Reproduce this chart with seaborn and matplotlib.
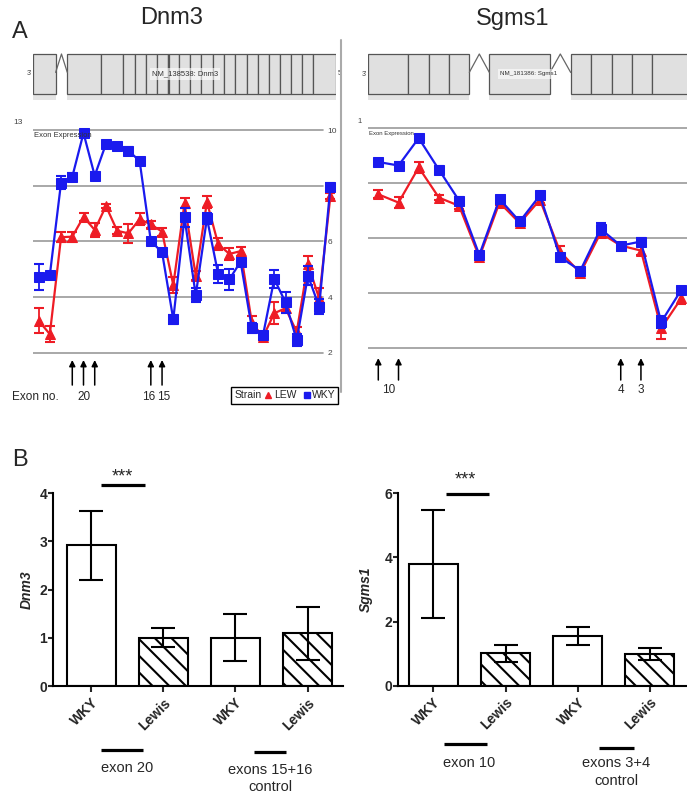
import numpy as np
import pandas as pd
import matplotlib.pyplot as plt
import seaborn as sns
from matplotlib.lines import Line2D
from matplotlib.patches import Rectangle

# ---- panel A: exon array expression, probe sets ordered 3' -> 5' ----
dnm3_wky = [4.71, 4.79, 8.11, 8.32, 9.89, 8.36, 9.50, 9.44, 9.26, 8.89, 6.01, 5.61, 3.20, 6.86,
            4.07, 6.83, 4.83, 4.64, 5.27, 2.88, 2.64, 4.65, 3.81, 2.46, 4.77, 3.65, 7.96]
dnm3_wky_err = [0.47, 0.12, 0.23, 0.12, 0.12, 0.12, 0.10, 0.10, 0.12, 0.12, 0.10, 0.12, 0.15, 0.33,
                0.24, 0.20, 0.32, 0.38, 0.12, 0.18, 0.10, 0.34, 0.39, 0.21, 0.34, 0.27, 0.12]
dnm3_lew = [3.15, 2.67, 6.15, 6.17, 6.88, 6.41, 7.27, 6.38, 6.29, 6.80, 6.61, 6.35, 4.43, 7.37,
            4.77, 7.42, 5.90, 5.55, 5.65, 3.08, 2.57, 3.42, 3.60, 2.75, 5.19, 3.95, 7.63]
dnm3_lew_err = [0.44, 0.28, 0.18, 0.18, 0.13, 0.24, 0.08, 0.12, 0.33, 0.22, 0.12, 0.14, 0.29, 0.18,
                0.16, 0.21, 0.21, 0.23, 0.16, 0.23, 0.10, 0.40, 0.12, 0.18, 0.28, 0.36, 0.10]

sgms1_wky = [8.77, 8.64, 9.64, 8.49, 7.36, 5.38, 7.42, 6.60, 7.55, 5.30, 4.81, 6.33, 5.72, 5.87, 2.93, 4.11]
sgms1_wky_err = [0.12, 0.12, 0.12, 0.15, 0.15, 0.15, 0.12, 0.12, 0.12, 0.12, 0.12, 0.21, 0.10, 0.12, 0.21, 0.10]
sgms1_lew = [7.59, 7.29, 8.57, 7.47, 7.17, 5.30, 7.29, 6.54, 7.39, 5.50, 4.72, 6.18, 5.72, 5.54, 2.71, 3.80]
sgms1_lew_err = [0.15, 0.20, 0.20, 0.10, 0.12, 0.12, 0.10, 0.10, 0.10, 0.21, 0.12, 0.12, 0.10, 0.15, 0.40, 0.20]

grid_ticks = [2, 4, 6, 8, 10]

# arrows marking the exons tested by qPCR (probe-set index) and their labels
dnm3_arrows = [3, 4, 5, 10, 11]
dnm3_arrow_labels = {4: '20', 9.85: '16', 11.1: '15'}
sgms1_arrows = [0, 1, 12, 13]
sgms1_arrow_labels = {0.5: '10', 12: '4', 13: '3'}

# gene models (exon start/end along the transcript drawing)
dnm3_exon_start = [100, 202, 303, 370, 404, 437, 470, 503, 507, 536, 571, 604, 638, 672, 706, 740, 773, 806, 840, 874, 907, 940]
dnm3_exon_end = [167, 303, 370, 404, 437, 470, 503, 507, 536, 571, 604, 638, 672, 706, 740, 773, 806, 840, 874, 907, 940, 1008]
sgms1_exon_start = [85, 205, 267, 327, 448, 692, 752, 815, 875, 935]
sgms1_exon_end = [205, 267, 327, 388, 630, 752, 815, 875, 935, 1070]

# ---- panel B: qPCR ----
qpcr_labels = ['WKY', 'Lewis', 'WKY', 'Lewis']
dnm3_qpcr = [2.92, 1.00, 1.00, 1.10]
dnm3_qpcr_err = [0.71, 0.20, 0.49, 0.55]
sgms1_qpcr = [3.79, 1.01, 1.55, 1.00]
sgms1_qpcr_err = [1.68, 0.27, 0.28, 0.19]

RED = '#ee1c25'
BLUE = '#1a1aee'

sns.set_style('white')
plt.rcParams['font.family'] = ['Liberation Sans', 'DejaVu Sans']
plt.rcParams['hatch.linewidth'] = 1.5

W, H = 687, 794
fig = plt.figure(figsize=(W / 100, H / 100), dpi=100)


def place(x0, y0, x1, y1):
    return fig.add_axes([x0 / W, 1 - y1 / H, (x1 - x0) / W, (y1 - y0) / H])


def gene_model(ax, starts, ends, xlim, label, label_x, fs):
    starts, ends = np.array(starts), np.array(ends)
    ax.barh(-0.08, ends - starts, left=starts, height=0.14, color='#e4e4e4', linewidth=0)
    ax.barh(0.5, ends - starts, left=starts, height=1.0, color='#e0e0e0',
            edgecolor='#555555', linewidth=0.9)
    for a, b in zip(ends[:-1], starts[1:]):
        if b > a:
            ax.plot([a, (a + b) / 2, b], [0.54, 1.0, 0.54], color='#666666', lw=0.9)
    ax.text(label_x, 0.5, label, fontsize=fs, ha='center', va='center', color='#333333',
            bbox=dict(facecolor='white', edgecolor='none', alpha=0.6, pad=1.5))
    ax.set_xlim(*xlim)
    ax.set_ylim(-0.15, 1.15)
    ax.axis('off')


def exon_profile(ax, wky, wky_err, lew, lew_err, xlim, ylim, grid_end):
    idx = np.arange(len(wky))
    for ticks in grid_ticks:
        ax.axhline(ticks, xmin=0, xmax=grid_end, color='#9a9a9a', lw=1.2, zorder=0)
    for vals, errs, col, mk in [(lew, lew_err, RED, '^'), (wky, wky_err, BLUE, 's')]:
        sns.lineplot(x=idx, y=vals, ax=ax, color=col, marker=mk, markersize=6.5,
                     markeredgecolor=col, lw=1.6, sort=False, errorbar=None, clip_on=False)
        ax.errorbar(idx, vals, yerr=errs, fmt='none', ecolor=col, elinewidth=1.3,
                    capsize=3.5, capthick=1.5, clip_on=False)
    ax.set_xlim(*xlim)
    ax.set_ylim(*ylim)
    ax.set_xticks([])
    sns.despine(ax=ax, left=True, bottom=True)


def arrows(ax, positions, labels, tip, base, label_y):
    for p in positions:
        ax.annotate('', xy=(p, tip), xytext=(p, base), annotation_clip=False,
                    arrowprops=dict(arrowstyle='-|>', color='black', lw=1.1, mutation_scale=9,
                                    shrinkA=0, shrinkB=0))
    for p, t in labels.items():
        ax.text(p, label_y, t, ha='center', va='center', fontsize=8.5, clip_on=False)


# titles and panel letters
fig.text(172 / W, 1 - 18 / H, 'Dnm3', fontsize=17, ha='center', va='center')
fig.text(513 / W, 1 - 19 / H, 'Sgms1', fontsize=17, ha='center', va='center')
fig.text(12 / W, 1 - 32 / H, 'A', fontsize=17, va='center')
fig.text(12 / W, 1 - 460 / H, 'B', fontsize=17, va='center')

# gene models
ax = place(33.3, 48, 336, 100)
gene_model(ax, dnm3_exon_start, dnm3_exon_end, (100, 1008), 'NM_138538: Dnm3', 555, 5.5)
ax.text(96, 0.52, "3'", fontsize=5, ha='right', va='center', color='#444444')
ax.text(1012, 0.52, "5'", fontsize=5, ha='left', va='center', color='#444444')
ax = place(368.3, 48, 687, 100)
gene_model(ax, sgms1_exon_start, sgms1_exon_end, (85, 1041), 'NM_181386: Sgms1', 567, 4.5)
ax.text(80, 0.48, "3'", fontsize=5, ha='right', va='center', color='#444444')

# exon expression profiles
ax = place(33, 120, 336, 360)
exon_profile(ax, dnm3_wky, dnm3_wky_err, dnm3_lew, dnm3_lew_err, (-0.5, 26.5), (1.74, 10.36), 0.957)
ax.yaxis.tick_right()
ax.set_yticks(grid_ticks)
ax.tick_params(axis='y', length=0, pad=-6, labelsize=6, labelcolor='#444444')
for lab in ax.get_yticklabels():
    lab.set_horizontalalignment('left')
ax.text(-0.035, 10.15, '13', transform=ax.get_yaxis_transform(), fontsize=6, ha='right',
        va='bottom', color='#444444')
ax.text(-0.45, 9.8, 'Exon Expression', fontsize=5.5, color='#333333', va='center')
arrows(ax, dnm3_arrows, dnm3_arrow_labels, 1.74, 0.84, 0.42)

ax = place(368.2, 120, 687, 360)
exon_profile(ax, sgms1_wky, sgms1_wky_err, sgms1_lew, sgms1_lew_err, (-0.5, 15.28), (1.55, 10.30), 1.0)
ax.set_yticks([])
ax.text(-0.02, 10.1, '1', transform=ax.get_yaxis_transform(), fontsize=5.5, ha='right',
        va='bottom', color='#444444')
ax.text(-0.48, 9.8, 'Exon Expression', fontsize=4.3, color='#333333', va='center')
arrows(ax, sgms1_arrows, sgms1_arrow_labels, 1.62, 0.82, 0.46)

fig.text(12 / W, 1 - 396.7 / H, 'Exon no.', fontsize=8.5, va='center')
fig.add_artist(Line2D([341 / W, 341 / W], [1 - 40 / H, 1 - 392 / H], color='#aaaaaa', lw=1.5))

# strain legend
fig.add_artist(Rectangle((231 / W, 1 - 404 / H), 107 / W, 17 / H, transform=fig.transFigure,
                         fill=False, edgecolor='black', lw=1))
fig.text(235 / W, 1 - 395.5 / H, 'Strain', fontsize=7.5, va='center')
handles = [Line2D([], [], ls='none', marker='^', color=RED, ms=5),
           Line2D([], [], ls='none', marker='s', color=BLUE, ms=5)]
fig.legend(handles, ['LEW', 'WKY'], loc='center left', bbox_to_anchor=(265 / W, 1 - 395.5 / H),
           ncol=2, frameon=False, fontsize=7.5, handlelength=0.6, handletextpad=0.25,
           columnspacing=0.7, borderpad=0, borderaxespad=0)


# qPCR bar charts
def qpcr_panel(ax, vals, errs, ylabel, ymax, yticks, xlim, labelpad):
    df = pd.DataFrame({'bar': range(len(vals)), 'value': vals})
    sns.barplot(data=df, x='bar', y='value', ax=ax, color='white', edgecolor='black',
                linewidth=1.5, width=0.68, errorbar=None, saturation=1)
    for i, patch in enumerate(ax.patches):
        patch.set_facecolor('white')
        if i % 2 == 1:
            patch.set_hatch('\\\\')
    ax.errorbar(range(len(vals)), vals, yerr=errs, fmt='none', ecolor='black',
                elinewidth=1.5, capsize=8.5, capthick=1.5, zorder=5)
    ax.set_xlim(*xlim)
    ax.set_ylim(0, ymax)
    ax.set_yticks(yticks)
    ax.set_xticks(range(len(vals)))
    ax.set_xticklabels(qpcr_labels, rotation=45, ha='right', rotation_mode='anchor',
                       fontweight='bold', fontsize=10)
    for lab in ax.get_yticklabels():
        lab.set_fontweight('bold')
    ax.tick_params(axis='y', labelsize=10, length=3.5, width=1.5, pad=1, left=True)
    ax.tick_params(axis='x', length=4, width=1.5, pad=3, bottom=True)
    ax.set_xlabel('')
    ax.set_ylabel(ylabel, fontsize=10, fontstyle='italic', fontweight='bold', labelpad=labelpad)
    for s in ['left', 'bottom']:
        ax.spines[s].set_linewidth(1.5)
        ax.spines[s].set_color('black')
    sns.despine(ax=ax)


def bracket(ax, x0, x1, y, lw=2.3):
    ax.plot([x0, x1], [y, y], color='black', lw=lw, clip_on=False, solid_capstyle='butt')


ax = place(53.3, 493.3, 343, 686)
qpcr_panel(ax, dnm3_qpcr, dnm3_qpcr_err, 'Dnm3', 4, [0, 1, 2, 3, 4], (-0.525, 3.49), 4)
bracket(ax, 0.14, 0.74, 4.17)
ax.text(0.43, 4.34, '***', ha='center', va='center', fontsize=13, clip_on=False)
bracket(ax, 0.13, 0.72, -1.33)
ax.text(0.5, -1.70, 'exon 20', ha='center', va='center', fontsize=10.5, clip_on=False)
bracket(ax, 2.26, 2.70, -1.36)
ax.text(2.48, -1.92, 'exons 15+16\ncontrol', ha='center', va='center', fontsize=10.5,
        linespacing=1.3, clip_on=False)

ax = place(398.3, 493.3, 686.7, 685.7)
qpcr_panel(ax, sgms1_qpcr, sgms1_qpcr_err, 'Sgms1', 6, [0, 2, 4, 6], (-0.485, 3.51), 8)
bracket(ax, 0.17, 0.77, 5.98)
ax.text(0.45, 6.40, '***', ha='center', va='center', fontsize=13, clip_on=False)
bracket(ax, 0.15, 0.75, -1.83)
ax.text(0.49, -2.42, 'exon 10', ha='center', va='center', fontsize=10.5, clip_on=False)
bracket(ax, 2.29, 2.78, -1.95)
ax.text(2.53, -2.69, 'exons 3+4\ncontrol', ha='center', va='center', fontsize=10.5,
        linespacing=1.3, clip_on=False)

fig.savefig('out.png', dpi=100)
